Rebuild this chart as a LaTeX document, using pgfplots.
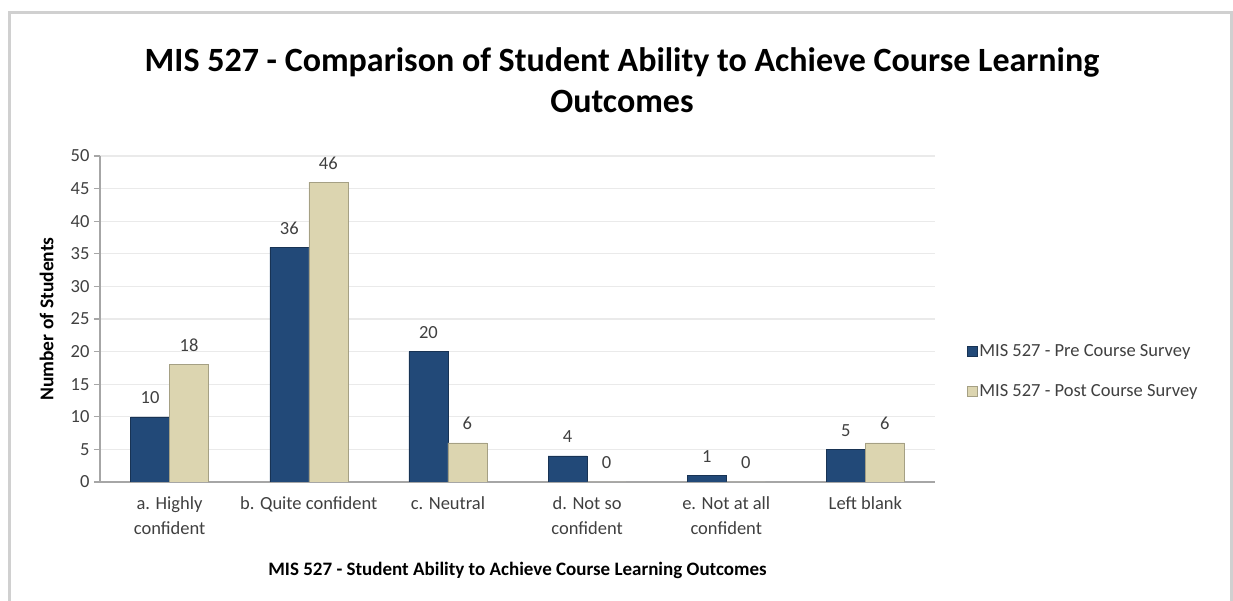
\documentclass[border=0pt]{standalone}
\usepackage{fontspec}
\setmainfont{Carlito}
\usepackage{pgfplots}
\pgfplotsset{compat=1.18}
\definecolor{preblue}{RGB}{34,73,120}
\definecolor{postbeige}{RGB}{220,213,176}
\definecolor{txt}{RGB}{64,64,64}
\definecolor{gridc}{RGB}{234,234,234}
\definecolor{framec}{RGB}{208,208,208}
\begin{document}
\begin{tikzpicture}
\useasboundingbox (0bp,0bp) rectangle (1233bp,601bp);
\fill[white] (0bp,0bp) rectangle (1233bp,601bp);
\draw[framec, line width=3bp] (9bp,-5bp) -- (9bp,588bp) -- (1231bp,588bp) -- (1231bp,-5bp);
\node[font=\fontsize{34bp}{41bp}\selectfont\bfseries, anchor=base] at (622bp,529bp) {MIS 527 - Comparison of Student Ability to Achieve Course Learning};
\node[font=\fontsize{34bp}{41bp}\selectfont\bfseries, anchor=base] at (622bp,488bp) {Outcomes};
\begin{axis}[
  at={(100bp,119bp)}, anchor=south west,
  scale only axis, width=835bp, height=326bp,
  ymin=0, ymax=50, ytick={0,5,...,50},
  xmin=-0.5, xmax=5.5, xtick={0,...,5},
  xticklabels={{a. Highly\\confident},{b. Quite confident},{c. Neutral},{d. Not so\\confident},{e. Not at all\\confident},{Left blank}},
  xtick style={draw=none},
  extra x ticks={-0.5,0.5,...,5.5}, extra x tick labels={},
  extra x tick style={tick align=outside, major tick length=6bp, tick style={draw=gray!70, line width=1.2bp}},
  ybar=0pt, bar width=39bp,
  axis lines*=left, axis line style={draw=gray!70, line width=1.2bp, -},
  ymajorgrids, grid style={draw=gridc, line width=1.2bp},
  ytick style={draw=gray!70, line width=1.2bp}, tick align=outside, major tick length=6bp,
  /pgf/number format/assume math mode=true,
  yticklabel style={font=\fontsize{18.5bp}{22bp}\selectfont, text=txt, xshift=-1bp},
  xticklabel style={font=\fontsize{18.5bp}{25bp}\selectfont, text=txt, align=center, anchor=north, yshift=-5bp},
  ylabel={Number of Students},
  ylabel style={font=\fontsize{19.5bp}{22bp}\selectfont\bfseries, at={(axis description cs:-0.064,0.5)}, anchor=center, rotate=0},
  xlabel={MIS 527 - Student Ability to Achieve Course Learning Outcomes},
  xlabel style={font=\fontsize{19bp}{22bp}\selectfont\bfseries, at={(axis description cs:0.5,-0.272)}, anchor=center},
  nodes near coords,
  nodes near coords style={font=\fontsize{18.5bp}{22bp}\selectfont, text=txt, anchor=base, yshift=13bp},
  legend style={at={(rel axis cs:1.038,0.435)}, anchor=north west, draw=none, fill=none,
    font=\fontsize{18.5bp}{22bp}\selectfont, text=txt, row sep=23bp, inner xsep=0bp},
  legend cell align=left,
  legend image code/.code={\fill[#1] (0bp,-5bp) rectangle (10bp,5bp);},
]
\addplot[fill=preblue, draw=preblue!70!black] coordinates {(0,10) (1,36) (2,20) (3,4) (4,1) (5,5)};
\addplot[fill=postbeige, draw=postbeige!75!black] coordinates {(0,18) (1,46) (2,6) (3,0) (4,0) (5,6)};
\legend{MIS 527 - Pre Course Survey, MIS 527 - Post Course Survey}
\end{axis}
\end{tikzpicture}
\end{document}
